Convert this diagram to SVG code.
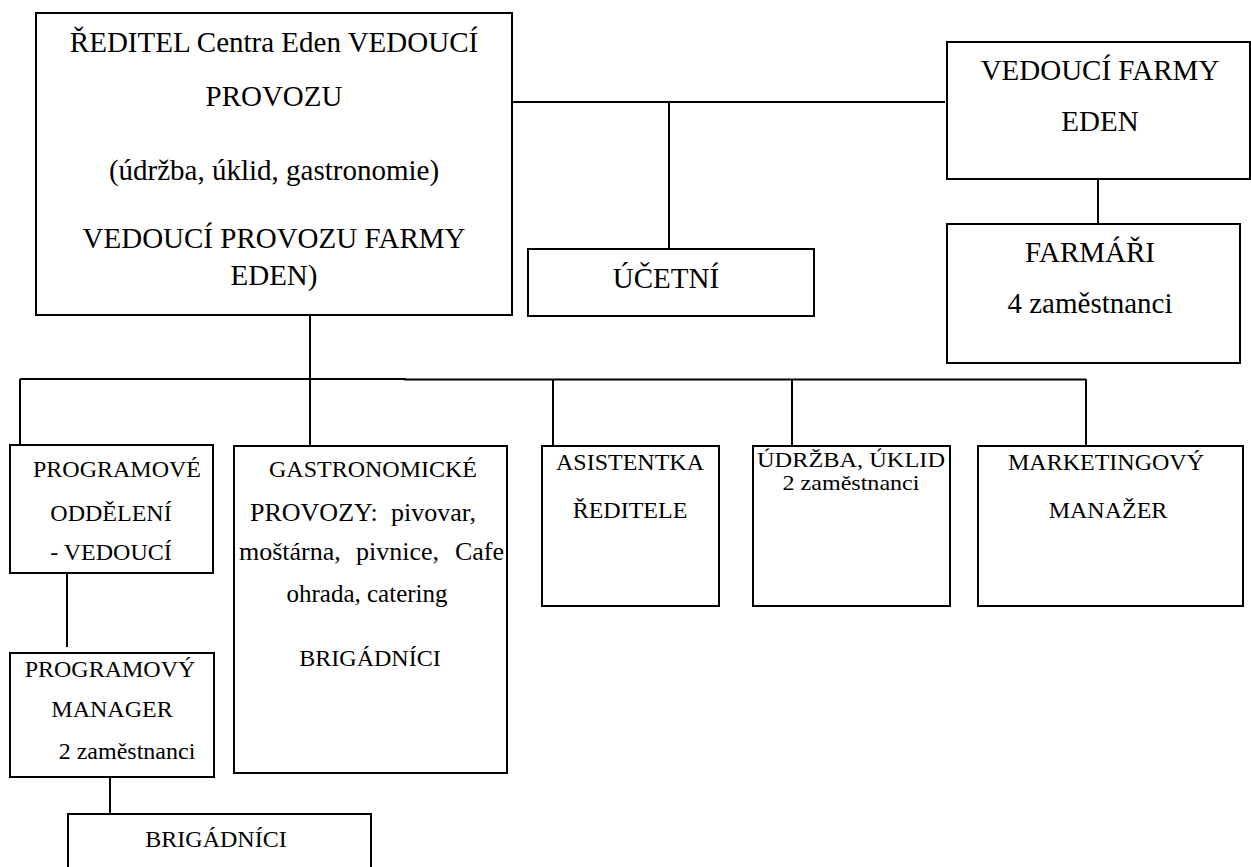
<svg xmlns="http://www.w3.org/2000/svg" width="1251" height="867" viewBox="0 0 1251 867">
<style>
.box{fill:#fff;stroke:#000;stroke-width:2}
.ln{stroke:#000;stroke-width:2;fill:none}
.t{font-family:'Liberation Serif','Times New Roman',serif;fill:#000;text-anchor:middle}
.b{font-size:29px}
.s{font-size:24px}
.g{font-size:25px}
.j{font-size:26px}
.c{font-size:22px}
</style>
<rect width="1251" height="867" fill="#fff"/>
<g id="connectors">
<path class="ln" d="M512 102H945"/>
<path class="ln" d="M669 102V249"/>
<path class="ln" d="M1098 179V224"/>
<path class="ln" d="M310 316V446"/>
<path class="ln" d="M20 379H406"/>
<path class="ln" d="M404 379.6H1086"/>
<path class="ln" d="M20 379V445"/>
<path class="ln" d="M553 379V446"/>
<path class="ln" d="M792 379V446"/>
<path class="ln" d="M1086 379V446"/>
<path class="ln" d="M67 573V647"/>
<path class="ln" d="M110 777V814"/>
</g>
<g id="reditel" class="t">
<rect class="box" x="36" y="13" width="476" height="302"/>
<text class="b" x="274" y="52">ŘEDITEL Centra Eden VEDOUCÍ</text>
<text class="b" x="274" y="106">PROVOZU</text>
<text class="b" x="274" y="180">(údržba, úklid, gastronomie)</text>
<text class="b" x="274" y="248">VEDOUCÍ PROVOZU FARMY</text>
<text class="b" x="274" y="285">EDEN)</text>
</g>
<g id="ucetni" class="t">
<rect class="box" x="528" y="249" width="286" height="67"/>
<text class="b" x="666" y="288">ÚČETNÍ</text>
</g>
<g id="vedouci-farmy" class="t">
<rect class="box" x="947" y="42" width="303" height="137"/>
<text class="b" x="1100" y="80">VEDOUCÍ FARMY</text>
<text class="b" x="1100" y="131">EDEN</text>
</g>
<g id="farmari" class="t">
<rect class="box" x="947" y="224" width="293" height="139"/>
<text class="b" x="1090" y="262">FARMÁŘI</text>
<text class="b" x="1090" y="313">4 zaměstnanci</text>
</g>
<g id="programove" class="t">
<rect class="box" x="10" y="445" width="203" height="128"/>
<text class="s" x="117" y="477">PROGRAMOVÉ</text>
<text class="s" x="111" y="521">ODDĚLENÍ</text>
<text class="s" x="111" y="560">- VEDOUCÍ</text>
</g>
<g id="gastro" class="t">
<rect class="box" x="234" y="446" width="273" height="327"/>
<text class="s" x="373" y="477">GASTRONOMICKÉ</text>
<text class="j" y="521"><tspan x="250" text-anchor="start">PROVOZY:</tspan><tspan x="391" text-anchor="start">pivovar,</tspan></text>
<text class="j" y="560"><tspan x="239" text-anchor="start">moštárna,</tspan><tspan x="356" text-anchor="start">pivnice,</tspan><tspan x="504" text-anchor="end">Cafe</tspan></text>
<text class="g" x="367" y="602">ohrada, catering</text>
<text class="s" x="370" y="666">BRIGÁDNÍCI</text>
</g>
<g id="asistentka" class="t">
<rect class="box" x="542" y="446" width="177" height="160"/>
<text class="s" x="630" y="470">ASISTENTKA</text>
<text class="s" x="630" y="518">ŘEDITELE</text>
</g>
<g id="udrzba" class="t">
<rect class="box" x="753" y="446" width="197" height="160"/>
<text class="c" x="851" y="467" textLength="188" lengthAdjust="spacingAndGlyphs">ÚDRŽBA, ÚKLID</text>
<text class="c" x="851" y="490" textLength="137" lengthAdjust="spacingAndGlyphs">2 zaměstnanci</text>
</g>
<g id="marketing" class="t">
<rect class="box" x="978" y="446" width="265" height="160"/>
<text class="s" x="1106" y="470">MARKETINGOVÝ</text>
<text class="s" x="1108" y="518">MANAŽER</text>
</g>
<g id="programovy-manager" class="t">
<rect class="box" x="10" y="653" width="204" height="124"/>
<text class="s" x="110" y="677">PROGRAMOVÝ</text>
<text class="s" x="112" y="717">MANAGER</text>
<text class="s" x="127" y="759">2 zaměstnanci</text>
</g>
<g id="brigadnici" class="t">
<rect class="box" x="68" y="814" width="303" height="80"/>
<text class="s" x="216" y="847">BRIGÁDNÍCI</text>
</g>
</svg>
